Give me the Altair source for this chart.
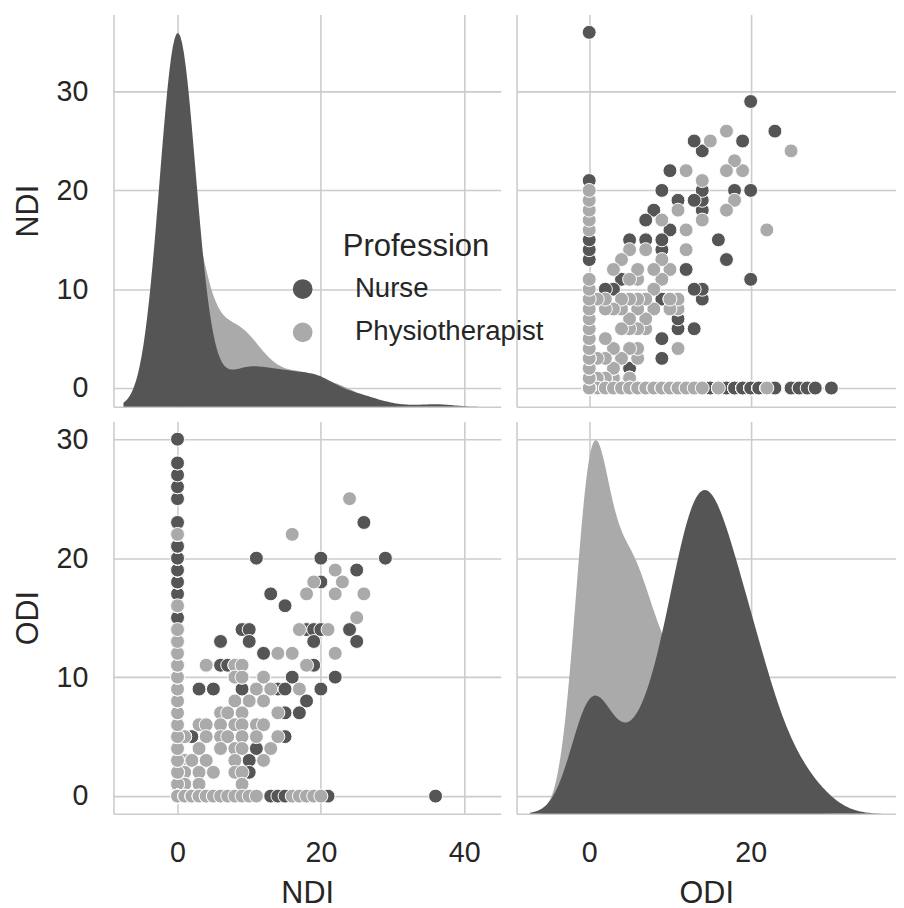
import numpy as np
import pandas as pd
import altair as alt

professions = ["Nurse", "Physiotherapist"]
colors = ["#555555", "#aaaaaa"]

# ---- Nurse: individually visible points (NDI, ODI) ----
nurse_ndi = [26, 11, 20, 29, 25, 20, 13, 15, 9, 10, 18, 19, 20, 24, 6, 10, 19, 25, 12,
             6, 7, 19, 16, 22, 3, 5, 9, 14, 15, 20, 18, 15, 17, 2, 15, 11, 10, 10,
             8, 9, 12, 8, 9, 4,
             13, 14, 15, 21, 36]
nurse_odi = [23, 20, 20, 20, 19, 18, 17, 16, 14, 14, 14, 14, 14, 14, 13, 13, 13, 13, 12,
             11, 11, 11, 10, 10, 9, 9, 9, 9, 9, 9, 8, 7, 7, 5, 5, 4, 3, 2,
             10, 10, 10, 11, 11, 11,
             0, 0, 0, 0, 0]
# ---- Nurse: NDI = 0 column (ODI value, number of nurses) ----
nurse_zero_odi = [0, 1, 2, 3, 4, 5, 6, 7, 8, 10, 11, 12, 13, 14, 15, 16, 17, 18, 19, 20,
                  21, 22, 23, 25, 26, 27, 28, 30]
nurse_zero_n = [15, 3, 1, 1, 1, 1, 3, 2, 3, 2, 4, 12, 10, 8, 13, 12, 10, 8, 7, 6,
                6, 5, 5, 4, 2, 1, 2, 1]

# ---- Physiotherapist: (NDI, ODI, number of people) ----
physio_ndi = [24, 16, 22, 19, 23, 18, 22, 26, 25, 17, 21, 14, 16, 22,
              4, 8, 9, 18, 8, 9, 12, 11, 13, 17, 8, 10, 12, 6, 7, 9, 14,
              3, 4, 6, 8, 9, 11, 12, 1, 4, 6, 7, 9, 11, 14, 3, 6, 8, 9, 13,
              1, 2, 4, 8, 12, 1, 3, 5, 8, 9, 1, 3, 9,
              0, 0, 0, 0, 0, 0, 0, 0, 0, 0, 0, 0, 0, 0, 0, 0,
              0, 1, 2, 3, 4, 5, 6, 7, 8, 9, 10, 11, 16, 17, 18, 19, 20]
physio_odi = [25, 22, 19, 18, 18, 17, 17, 17, 15, 14, 14, 12, 12, 12,
              11, 11, 11, 11, 10, 10, 10, 9, 9, 9, 8, 8, 8, 7, 7, 7, 7,
              6, 6, 6, 6, 6, 6, 6, 5, 5, 5, 5, 5, 5, 5, 4, 4, 4, 4, 4,
              3, 3, 3, 3, 3, 2, 2, 2, 2, 2, 1, 1, 1,
              1, 2, 3, 4, 5, 6, 7, 8, 9, 10, 11, 12, 13, 14, 16, 22,
              0, 0, 0, 0, 0, 0, 0, 0, 0, 0, 0, 0, 0, 0, 0, 0, 0]
physio_n = [1, 1, 1, 1, 1, 1, 1, 1, 1, 1, 1, 1, 1, 1,
            1, 1, 1, 1, 1, 1, 1, 1, 1, 1, 1, 1, 1, 1, 1, 1, 1,
            3, 1, 1, 1, 1, 1, 1, 3, 1, 1, 1, 1, 1, 1, 2, 1, 1, 1, 1,
            2, 2, 1, 1, 1, 2, 2, 1, 1, 1, 2, 1, 1,
            2, 3, 2, 3, 3, 3, 3, 4, 3, 3, 3, 2, 1, 1, 1, 1,
            26, 3, 3, 3, 2, 2, 1, 1, 1, 1, 1, 1, 1, 1, 1, 1, 1]

ndi_ticks_x = [0, 20, 40]
ndi_ticks_y = [0, 10, 20, 30]
odi_ticks_x = [0, 20]
odi_ticks_y = [0, 10, 20, 30]

assert len(nurse_ndi) == len(nurse_odi)
assert len(nurse_zero_odi) == len(nurse_zero_n)
assert len(physio_ndi) == len(physio_odi) == len(physio_n)

rows = []
for a, b in zip(nurse_ndi, nurse_odi):
    rows.append((a, b, "Nurse"))
for b, k in zip(nurse_zero_odi, nurse_zero_n):
    rows += [(0, b, "Nurse")] * k
for a, b, k in zip(physio_ndi, physio_odi, physio_n):
    rows += [(a, b, "Physiotherapist")] * k
df = pd.DataFrame(rows, columns=["NDI", "ODI", "Profession"])

# KDE parameters like seaborn (Scott bandwidth, cut=3, common_norm)
kde = {}
for var in ["NDI", "ODI"]:
    peak = 0.0
    for prof in professions:
        v = df.loc[df.Profession == prof, var].to_numpy(float)
        h = float(v.std(ddof=1) * len(v) ** (-0.2))
        lo, hi = float(v.min() - 3 * h), float(v.max() + 3 * h)
        g = np.linspace(lo, hi, 200)
        d = np.exp(-0.5 * ((g[:, None] - v[None, :]) / h) ** 2).sum(1) / (h * np.sqrt(2 * np.pi))
        peak = max(peak, float(d.max()))
        kde[(var, prof)] = (h, [lo, hi])
    kde[var] = peak * 1.05

W0, W1, H = 393, 385, 398
GRID = "#cccccc"
TXT = "#262626"

sc = {
    "NDI_x": alt.Scale(domain=[-8.94, 45.1], nice=False, zero=False),
    "NDI_y": alt.Scale(domain=[-1.9, 37.8], nice=False, zero=False),
    "ODI_x": alt.Scale(domain=[-9.0, 38.0], nice=False, zero=False),
    "ODI_y": alt.Scale(domain=[-1.49, 31.48], nice=False, zero=False),
}
ticks = {"NDI_x": ndi_ticks_x, "NDI_y": ndi_ticks_y, "ODI_x": odi_ticks_x, "ODI_y": odi_ticks_y}


def ax(key, show, title=None, pad=26, tpad=12):
    if show:
        return alt.Axis(values=ticks[key], labels=True, title=title, labelPadding=pad,
                        titlePadding=tpad, tickSize=0)
    return alt.Axis(values=ticks[key], labels=False, title=None, tickSize=0)


legend = alt.Legend(orient="none", legendX=178, legendY=220, title="Profession",
                    titleFontSize=31.5, labelFontSize=28, symbolSize=400, symbolType="circle",
                    labelOffset=39, rowPadding=16, titlePadding=13, titleAnchor="middle",
                    titleFontWeight="normal", labelColor=TXT, titleColor=TXT,
                    symbolStrokeWidth=0, labelLimit=400, titleLimit=400)
color = alt.Color("Profession:N", scale=alt.Scale(domain=professions, range=colors), legend=legend)


def scatter(xv, yv, xaxis, yaxis, w):
    return alt.Chart(df).mark_circle(size=200, opacity=1, stroke="white", strokeWidth=1).encode(
        x=alt.X(f"{xv}:Q", scale=sc[f"{xv}_x"], axis=xaxis),
        y=alt.Y(f"{yv}:Q", scale=sc[f"{yv}_y"], axis=yaxis),
        color=color,
    ).properties(width=w, height=H)


def diag(var, xaxis, yaxis, w):
    base = alt.Chart(df).mark_point(opacity=0).encode(
        x=alt.X(f"{var}:Q", scale=sc[f"{var}_x"], axis=xaxis),
        y=alt.Y(f"{var}:Q", scale=sc[f"{var}_y"], axis=yaxis),
    )
    layers = [base]
    for prof, col in [("Physiotherapist", colors[1]), ("Nurse", colors[0])]:
        h, ext = kde[(var, prof)]
        layers.append(
            alt.Chart(df).transform_filter(alt.datum.Profession == prof)
            .transform_density(var, as_=["v", "density"], bandwidth=h, extent=ext,
                               counts=True, steps=200)
            .mark_area(color=col, opacity=1, clip=True)
            .encode(
                x=alt.X("v:Q", scale=sc[f"{var}_x"], axis=xaxis),
                y=alt.Y("density:Q", scale=alt.Scale(domain=[0, kde[var]], nice=False, zero=True),
                        axis=None),
            )
        )
    return alt.layer(*layers).resolve_scale(y="independent").properties(width=w, height=H)


tl = diag("NDI", ax("NDI_x", False), ax("NDI_y", True, "NDI"), W0)
tr = scatter("ODI", "NDI", ax("ODI_x", False), ax("NDI_y", False), W1)
bl = scatter("NDI", "ODI", ax("NDI_x", True, "NDI", pad=25, tpad=12), ax("ODI_y", True, "ODI"), W0)
br = diag("ODI", ax("ODI_x", True, "ODI", pad=25, tpad=12), ax("ODI_y", False), W1)

chart = alt.concat(tl, tr, bl, br, columns=2, spacing={"row": 15, "column": 16}).properties(
    padding={"left": 4, "top": 0, "right": 0, "bottom": 0}
).configure(font="Liberation Sans").configure_view(strokeWidth=0).configure_axis(
    ticks=False, tickSize=0, grid=True, gridColor=GRID, gridWidth=1.6, domainColor=GRID,
    domainWidth=1.6, labelFontSize=29, titleFontSize=31, labelColor=TXT, titleColor=TXT,
    titleFontWeight="normal", labelFont="Liberation Sans", titleFont="Liberation Sans"
)

chart.save("out.html", embed_options={"renderer": "svg", "actions": False})
